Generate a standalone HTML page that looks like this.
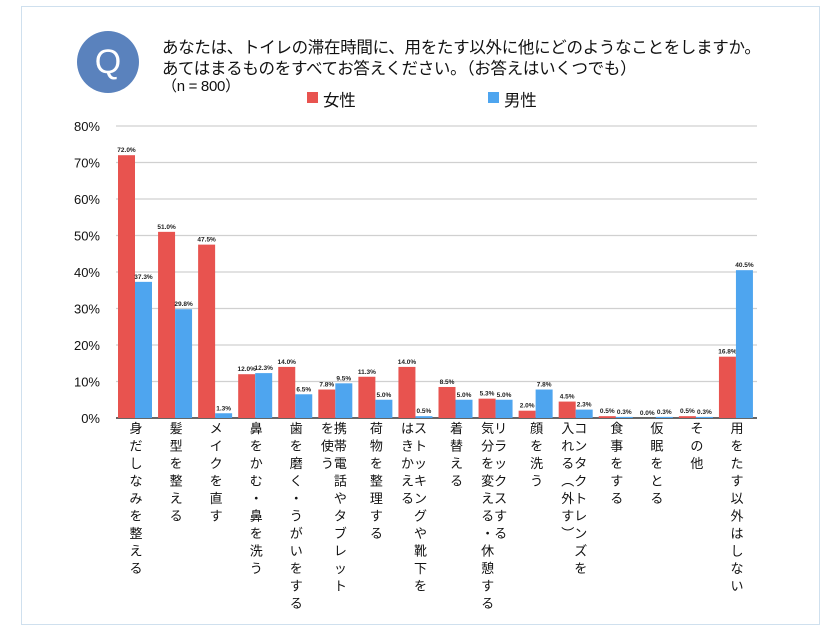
<!DOCTYPE html>
<html><head><meta charset="utf-8"><style>
body{margin:0;background:#fff;font-family:"Liberation Sans","Noto Sans CJK JP",sans-serif}
#wrap{position:relative;width:840px;height:630px;overflow:hidden;background:#fff}
.t{position:absolute;font-size:16.5px;color:#111;white-space:nowrap;letter-spacing:-0.3px}
</style></head><body>
<div id="wrap">
<div style="position:absolute;left:21px;top:6px;width:797px;height:617px;border:1px solid #cfe0ee"></div>
<div style="position:absolute;left:77px;top:31px;width:62px;height:62px;border-radius:50%;background:#5a82bd;color:#fff;font-size:34px;text-align:center;line-height:62px">Q</div>
<div class="t" style="left:162px;top:34px">あなたは、トイレの滞在時間に、用をたす以外に他にどのようなことをしますか。</div>
<div class="t" style="left:162px;top:55px">あてはまるものをすべてお答えください。（お答えはいくつでも）</div>
<div class="t" style="left:162px;top:75px;font-size:15px">（n = 800）</div>
<div style="position:absolute;left:307px;top:92px;width:11px;height:11px;background:#e8534f"></div>
<div class="t" style="left:323px;top:87px">女性</div>
<div style="position:absolute;left:488px;top:92px;width:11px;height:11px;background:#4ea5ef"></div>
<div class="t" style="left:504px;top:87px">男性</div>
<svg id="svg" width="840" height="630" style="position:absolute;left:0;top:0"></svg>
</div>
<script>
const categories=["身だしなみを整える","髪型を整える","メイクを直す","鼻をかむ・鼻を洗う","歯を磨く・うがいをする","携帯電話やタブレット|を使う","荷物を整理する","ストッキングや靴下を|はきかえる","着替える","リラックスする|気分を変える・休憩する","顔を洗う","コンタクトレンズを|入れる︵外す︶","食事をする","仮眠をとる","その他","用をたす以外はしない"];
const female=[72.0,51.0,47.5,12.0,14.0,7.8,11.3,14.0,8.5,5.3,2.0,4.5,0.5,0.0,0.5,16.8];
const male=[37.3,29.8,1.3,12.3,6.5,9.5,5.0,0.5,5.0,5.0,7.8,2.3,0.3,0.3,0.3,40.5];
const yTicks=[0,10,20,30,40,50,60,70,80];
const NS="http://www.w3.org/2000/svg";
const svg=document.getElementById('svg');
const X0=116,X1=757,Y0=418,Y80=126;
const y=v=>Y0-(v/80)*(Y0-Y80);
const gw=(X1-X0)/categories.length;
const x=i=>X0+i*gw;
function mk(tag,a){const e=document.createElementNS(NS,tag);for(const k in a)e.setAttribute(k,a[k]);svg.appendChild(e);return e;}
yTicks.forEach(t=>{
  const l=mk('line',{x1:X0,x2:X1,y1:y(t),y2:y(t),stroke:t===0?'#333':'#d0d0d0','stroke-width':t===0?1.5:1.2});
  
  
  const tx=mk('text',{x:100,y:y(t)+5,'text-anchor':'end','font-size':13,fill:'#111','font-family':'Liberation Sans, sans-serif'});
  tx.textContent=t+'%';
  
  
});
const bw=17;
categories.forEach((c,i)=>{
  const xr=x(i)+2, xb=xr+bw;
  [[female[i],xr,'#e8534f','female'],[male[i],xb,'#4ea5ef','male']].forEach(([v,bx,col,s])=>{
    const r=mk('rect',{x:bx,y:y(v),width:bw,height:Y0-y(v),fill:col});
    
    
    const t=mk('text',{x:bx+bw/2,y:y(v)-3,'text-anchor':'middle','font-size':6.5,'font-weight':'bold',fill:'#222','font-family':'Liberation Sans, sans-serif'});
    t.textContent=v.toFixed(1)+'%';
    
    
  });
  const cols=c.split('|');
  const cx=x(i)+gw/2+(cols.length>1?4:0);
  cols.forEach((col,j)=>{
    [...col].forEach((ch,k)=>{
      const t=mk('text',{x:cx-j*13,y:433+k*17.5,'text-anchor':'middle','font-size':13,fill:'#111','font-family':'Liberation Sans, Noto Sans CJK JP, sans-serif'});
      t.textContent=ch;
      
      
    });
  });
});
</script>
</body></html>
